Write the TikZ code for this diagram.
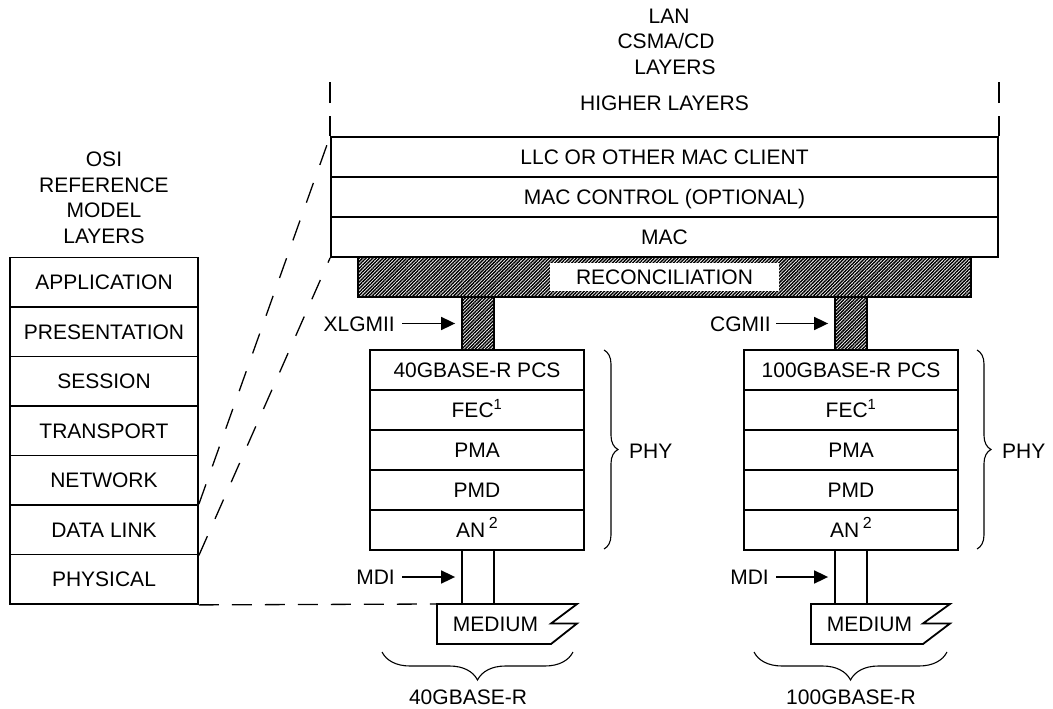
\documentclass[tikz,border=0pt]{standalone}
\usepackage{fontspec}
\setmainfont{Liberation Sans}
\usetikzlibrary{arrows.meta,patterns.meta,decorations.pathreplacing}
\begin{document}
\begin{tikzpicture}[x=1pt,y=-1pt,
  font=\fontsize{21}{25.5}\selectfont,
  box/.style={draw,line width=1.8pt,inner sep=0pt,text height=15pt,text depth=0pt},
  osirow/.style={box,minimum width=188pt,minimum height=49.5pt},
  lanrow/.style={box,minimum width=667pt,minimum height=40pt},
  phyrow/.style={box,minimum width=214pt,minimum height=40pt},
  hatched/.style={draw,line width=1.8pt,inner sep=0pt,
    pattern={Lines[angle=45,distance=2.4pt,line width=1.45pt]},pattern color=black},
  lbl/.style={inner sep=0pt,text height=15pt,text depth=0pt},
  arr/.style={line width=1.7pt,-{Triangle[length=14pt,width=13pt]}},
  dsh/.style={line width=1.3pt,dash pattern=on 20pt off 13pt},
  ddiag/.style={line width=1.3pt,dash pattern=on 21pt off 19pt},
  brc/.style={line width=1.1pt,decorate,decoration={brace,amplitude=#1}},
  thick line/.style={line width=1.8pt}
]
\fill[white] (0,0) rectangle (1053,709);
\useasboundingbox (0,0) rectangle (1053,709);

% OSI column
\node[inner sep=0pt,align=center] (osititle) at (104,198) {OSI\\REFERENCE\\MODEL\\LAYERS};
\foreach \t [count=\i] in {APPLICATION,PRESENTATION,SESSION,TRANSPORT,NETWORK,DATA LINK,PHYSICAL}
  \node[osirow] (osi\i) at (104,{257.5+49.5*(\i-0.5)}) {\t};

% LAN title
\node[inner sep=0pt,align=center] (lantitle) at (666,41.5) {\hspace*{6pt}LAN\\CSMA/CD\\\hspace*{18pt}LAYERS};
\node[lbl] (higher) at (664.5,103) {HIGHER LAYERS};

% LAN rows
\node[lanrow] (llc) at (664.5,157) {LLC OR OTHER MAC CLIENT};
\node[lanrow] (macc) at (664.5,197) {MAC CONTROL (OPTIONAL)};
\node[lanrow] (mac) at (664.5,237) {MAC};
\draw[thick line] (llc.north west) -- ++(0,-20) ++(0,-13) -- ++(0,-21);
\draw[thick line] (llc.north east) -- ++(0,-20) ++(0,-13) -- ++(0,-21);

% Reconciliation
\node[hatched,minimum width=613pt,minimum height=40pt] (rec) at (664.5,277) {};
\node[lbl,fill=white,minimum width=229pt,minimum height=28pt] (reclab) at (664.5,277) {RECONCILIATION};

% interface columns
\node[hatched,minimum width=32pt,minimum height=53pt] (xlg) at (478,323.5) {};
\node[hatched,minimum width=32pt,minimum height=53pt] (cgm) at (851,323.5) {};
\node[lbl,anchor=east] (xlgl) at (395,323.5) {XLGMII};
\node[lbl,anchor=east] (cgml) at (771,323.5) {CGMII};
\draw[arr,shorten <=7pt,shorten >=6pt] (xlgl.east) -- (xlg.west);
\draw[arr,shorten <=5pt,shorten >=6pt] (cgml.east) -- (cgm.west);

% PHY stacks
\node[phyrow] (pcs40) at (477,370) {40GBASE-R PCS};
\node[phyrow] (fec40) at (477,410) {FEC\textsuperscript{1}};
\node[phyrow] (pma40) at (477,450) {PMA};
\node[phyrow] (pmd40) at (477,490) {PMD};
\node[phyrow] (an40) at (477,530) {AN\,\raisebox{0.42em}{\fontsize{16}{16}\selectfont 2}};
\node[phyrow] (pcs100) at (851,370) {100GBASE-R PCS};
\node[phyrow] (fec100) at (851,410) {FEC\textsuperscript{1}};
\node[phyrow] (pma100) at (851,450) {PMA};
\node[phyrow] (pmd100) at (851,490) {PMD};
\node[phyrow] (an100) at (851,530) {AN\,\raisebox{0.42em}{\fontsize{16}{16}\selectfont 2}};

% PHY braces
\draw[brc=14pt] (604,350) -- (604,549);
\draw[brc=14pt] (977,350) -- (977,549);
\node[lbl,anchor=west] (phy40) at (629,451) {PHY};
\node[lbl,anchor=west] (phy100) at (1002,451) {PHY};

% MDI columns
\node[box,minimum width=32pt,minimum height=54pt] (mdi40) at (478,577) {};
\node[box,minimum width=32pt,minimum height=54pt] (mdi100) at (851,577) {};
\node[lbl,anchor=east] (mdi40l) at (395,577) {MDI};
\node[lbl,anchor=east] (mdi100l) at (769,577) {MDI};
\draw[arr,shorten <=7pt,shorten >=6pt] (mdi40l.east) -- (mdi40.west);
\draw[arr,shorten <=7pt,shorten >=6pt] (mdi100l.east) -- (mdi100.west);

% Medium
\draw[thick line] (437,604) coordinate (med40) -- (577,604) -- (551,623.5) -- (577,623.5) -- (551,644) -- (437,644) -- cycle;
\draw[thick line] (811,604) coordinate (med100) -- (950,604) -- (923,623.5) -- (950,623.5) -- (923,644) -- (811,644) -- cycle;
\node[lbl] (med40l) at (495.5,623.5) {MEDIUM};
\node[lbl] (med100l) at (869.5,623.5) {MEDIUM};

% bottom braces
\draw[brc=28pt] (573,652) -- (382,652);
\draw[brc=28pt] (947,652) -- (754,652);
\node[lbl] (b40) at (468,697) {40GBASE-R};
\node[lbl] (b100) at (851,697) {100GBASE-R};

% dashed mapping lines
\draw[dsh] (osi7.south east) -- (med40);
\draw[ddiag] (osi6.north east) -- (llc.north west);
\draw[ddiag] (osi6.south east) -- (mac.south west);
\end{tikzpicture}
\end{document}
